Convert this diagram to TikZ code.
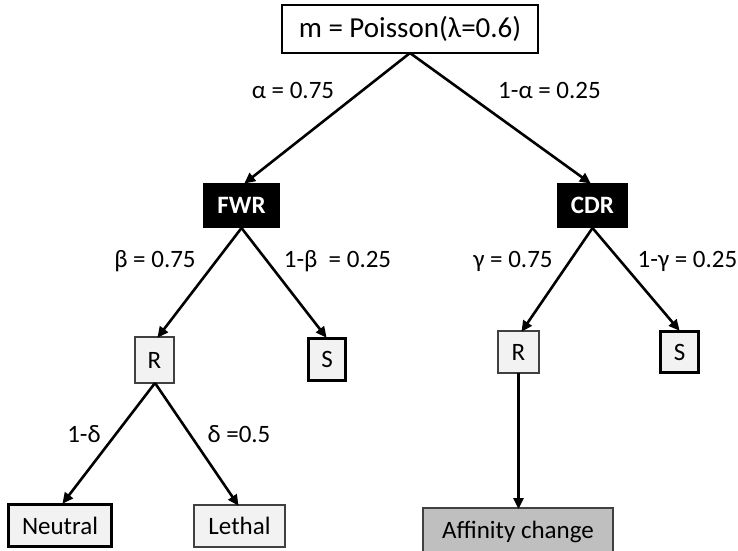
\documentclass[tikz,border=0pt]{standalone}
\usepackage{fontspec}
\setmainfont{Carlito}
\usetikzlibrary{arrows.meta}
\begin{document}
\begin{tikzpicture}[x=1pt,y=-1pt,
  every node/.style={font=\fontsize{25}{30}\selectfont},
  leaf/.style={draw=black!75, fill=black!5, line width=1.2pt, inner sep=0pt},
  thickleaf/.style={draw=black, fill=black!5, line width=3.5pt, inner sep=0pt},
  dark/.style={fill=black, text=white, inner sep=0pt, font=\fontsize{25}{30}\selectfont\bfseries},
  conn/.style={line width=2.6pt, -{Triangle[length=11pt,width=10pt]}, shorten >=-1pt},
  lbl/.style={inner sep=0pt, anchor=base, font=\fontsize{25}{30}\selectfont}]
\useasboundingbox (0,0) rectangle (738,550);
\node[draw, line width=1.2pt, fill=white, minimum width=256pt, minimum height=48pt, inner sep=0pt, font=\fontsize{29}{32}\selectfont] (top) at (410,29) {m = Poisson(λ=0.6)};
\node[dark, minimum width=77pt, minimum height=45pt] (fwr) at (241.5,205.5) {FWR};
\node[dark, minimum width=71pt, minimum height=45pt] (cdr) at (592.5,205.5) {CDR};
\node[leaf, minimum width=39pt, minimum height=46pt] (r1) at (154.5,360) {R};
\node[thickleaf, minimum width=37pt, minimum height=42pt] (s1) at (327,359.5) {S};
\node[leaf, minimum width=41pt, minimum height=42pt] (r2) at (518.5,352) {R};
\node[thickleaf, minimum width=38pt, minimum height=41pt] (s2) at (679.5,352) {S};
\node[thickleaf, minimum width=103pt, minimum height=42pt] (neu) at (60,525.5) {Neutral};
\node[leaf, minimum width=91pt, minimum height=42pt] (let) at (239.5,526) {Lethal};
\node[draw=black!75, fill=black!25, line width=1.2pt, minimum width=190pt, minimum height=50pt, inner sep=0pt] (aff) at (518,533) {\raisebox{7pt}{Affinity change}};
\coordinate (tb) at (410,53);
\coordinate (fb) at (241.5,228);
\coordinate (cb) at (592.5,228);
\coordinate (r1b) at (155,383);
\coordinate (r2b) at (518.5,373);
\draw[conn] (tb) -- (245,183);
\draw[conn] (tb) -- (590,183);
\draw[conn] (fb) -- (158,337);
\draw[conn] (fb) -- (326,337);
\draw[conn] (cb) -- (522,331);
\draw[conn] (cb) -- (679,330);
\draw[conn] (r1b) -- (63,503);
\draw[conn] (r1b) -- (238,505);
\draw[conn] (r2b) -- (518.5,508);
\node[lbl] (la) at (293,98) {α = 0.75};
\node[lbl] (lna) at (549.5,98) {1-α = 0.25};
\node[lbl] (lb) at (155,267) {β = 0.75};
\node[lbl] (lnb) at (337.5,267) {1-β \ = 0.25};
\node[lbl] (lg) at (513,267) {γ = 0.75};
\node[lbl] (lng) at (687.5,267) {1-γ = 0.25};
\node[lbl] (ld) at (84,442) {1-δ};
\node[lbl] (lnd) at (239,442) {δ =0.5};
\end{tikzpicture}
\end{document}
